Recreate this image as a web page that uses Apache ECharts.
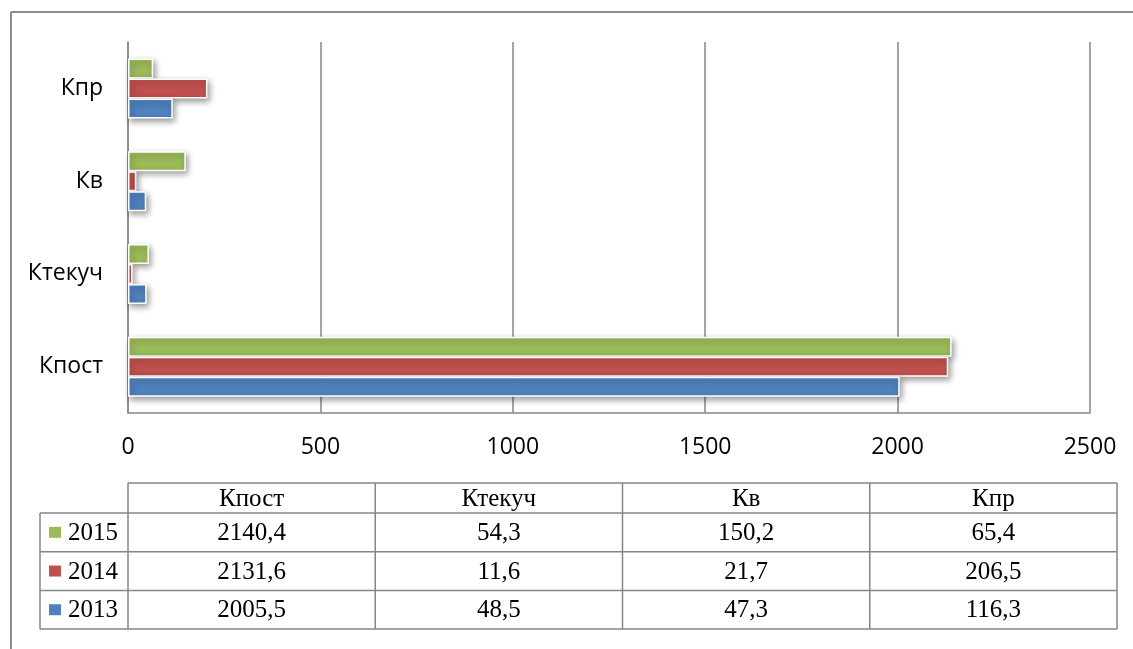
<!DOCTYPE html>
<html>
<head>
<meta charset="utf-8">
<script src="https://cdn.jsdelivr.net/npm/echarts@6/dist/echarts.min.js"></script>
<style>
  html, body { margin: 0; padding: 0; background: #ffffff; }
  #chart { width: 1133px; height: 649px; }
</style>
</head>
<body>
<div id="chart"></div>
<script>
// Categories (bottom to top on the value chart, left to right in the table)
const categories = ['Кпост', 'Ктекуч', 'Кв', 'Кпр'];
// Values per year
const years = ['2013', '2014', '2015'];
const values2013 = [2005.5, 48.5, 47.3, 116.3];
const values2014 = [2131.6, 11.6, 21.7, 206.5];
const values2015 = [2140.4, 54.3, 150.2, 65.4];
const valueTicks = [0, 500, 1000, 1500, 2000, 2500];

const seriesValues = [values2013, values2014, values2015];
const colors = ['#4F81BD', '#C0504D', '#9BBB59'];
const gridColor = '#868686';
// Latest year first: it sits on top inside each category band and in the table
const stackOrder = [2, 1, 0];

const chart = echarts.init(document.getElementById('chart'), null, { renderer: 'canvas' });

// Data table under the chart: header row, then one row per year (latest on top)
function buildTable() {
  const els = [];
  const left = 40, colStart = 128, right = 1117;
  const top = 483, headerH = 30, rowH = 38.7;
  const colW = (right - colStart) / categories.length;
  const bottom = top + headerH + rowH * stackOrder.length;
  const line = (x1, y1, x2, y2) => ({
    type: 'line', silent: true,
    shape: { x1, y1, x2, y2 },
    style: { stroke: gridColor, lineWidth: 1.5 }
  });
  // horizontal rules
  els.push(line(colStart, top, right, top));
  for (let r = 0; r <= stackOrder.length; r++) {
    const y = top + headerH + r * rowH;
    els.push(line(left, y, right, y));
  }
  // vertical rules
  els.push(line(left, top + headerH, left, bottom));
  for (let c = 0; c <= categories.length; c++) {
    const x = colStart + c * colW;
    els.push(line(x, top, x, bottom));
  }
  const textStyle = { fontFamily: 'Liberation Serif', fontSize: 25, fill: '#000' };
  // header
  categories.forEach((cat, c) => {
    els.push({
      type: 'text', silent: true,
      x: colStart + (c + 0.5) * colW, y: top + headerH / 2 + 1,
      style: Object.assign({ text: cat, align: 'center', verticalAlign: 'middle' }, textStyle)
    });
  });
  // rows
  stackOrder.forEach((si, r) => {
    const cy = top + headerH + (r + 0.5) * rowH;
    els.push({
      type: 'rect', silent: true,
      shape: { x: 49, y: cy - 5.5, width: 12, height: 11 },
      style: { fill: colors[si] }
    });
    els.push({
      type: 'text', silent: true,
      x: 68, y: cy + 1,
      style: Object.assign({ text: years[si], align: 'left', verticalAlign: 'middle' }, textStyle)
    });
    seriesValues[si].forEach((v, c) => {
      els.push({
        type: 'text', silent: true,
        x: colStart + (c + 0.5) * colW, y: cy + 1,
        style: Object.assign({ text: v.toFixed(1).replace('.', ','), align: 'center', verticalAlign: 'middle' }, textStyle)
      });
    });
  });
  return els;
}

// Outer frame (only top and left edges fall inside the canvas)
const frame = [
  { type: 'line', silent: true, shape: { x1: 11, y1: 12, x2: 1140, y2: 12 }, style: { stroke: '#8c8c8c', lineWidth: 2 } },
  { type: 'line', silent: true, shape: { x1: 11, y1: 12, x2: 11, y2: 660 }, style: { stroke: '#8c8c8c', lineWidth: 2 } }
];

const option = {
  animation: false,
  backgroundColor: '#ffffff',
  grid: { left: 128, right: 43, top: 42, bottom: 236, containLabel: false },
  xAxis: {
    type: 'value',
    min: valueTicks[0],
    max: valueTicks[valueTicks.length - 1],
    interval: valueTicks[1] - valueTicks[0],
    axisLine: { show: true, lineStyle: { color: gridColor, width: 1.5 } },
    axisTick: { show: false },
    axisLabel: { color: '#000', fontFamily: 'Open Sans', fontSize: 23, margin: 23, formatter: v => String(v) },
    splitLine: { show: true, lineStyle: { color: gridColor, width: 1.5 } }
  },
  yAxis: {
    type: 'category',
    data: categories,
    axisLine: { show: true, lineStyle: { color: gridColor, width: 1.5 } },
    axisTick: { show: false },
    axisLabel: { color: '#000', fontFamily: 'Open Sans', fontSize: 23, margin: 25 },
    splitLine: { show: false }
  },
  // drawn top bar first so each lower bar covers the shadow of the one above
  series: stackOrder.map((si, k) => ({
    name: years[si],
    type: 'bar',
    data: seriesValues[si],
    barWidth: 20,
    barGap: '0%',
    z: 2 + k,
    itemStyle: {
      color: colors[si],
      borderColor: '#ffffff',
      borderWidth: 1.5,
      shadowBlur: 6,
      shadowOffsetX: 2,
      shadowOffsetY: 3,
      shadowColor: 'rgba(0,0,0,0.4)'
    }
  })),
  graphic: { elements: frame.concat(buildTable()) }
};

chart.setOption(option);
</script>
</body>
</html>
